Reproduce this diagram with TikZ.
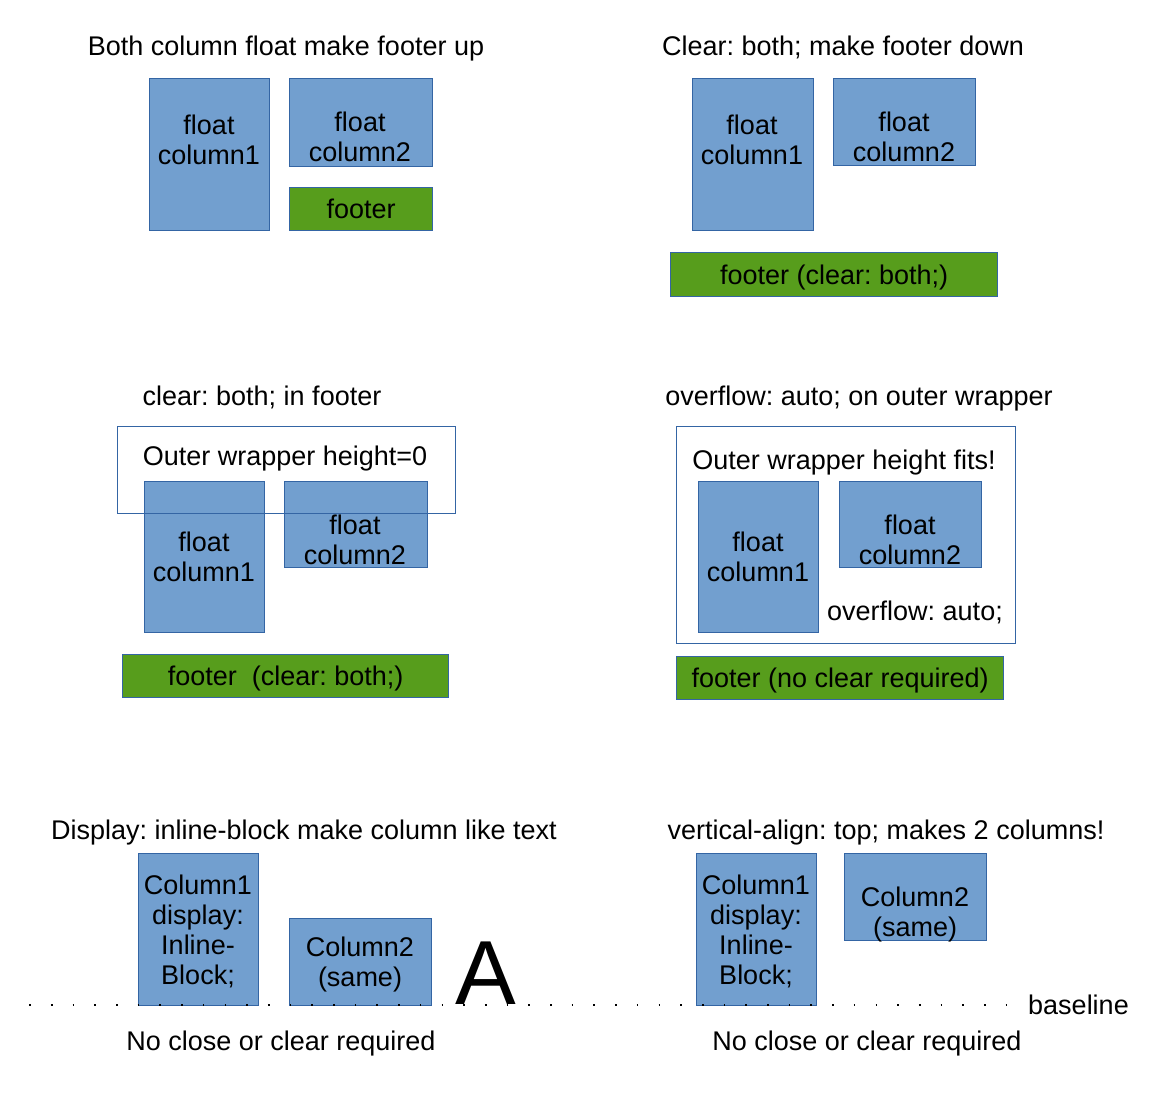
\documentclass[tikz,border=0pt]{standalone}
\usepackage{fontspec}
\setmainfont{Liberation Sans}
\frenchspacing
\definecolor{bord}{HTML}{3465A4}
\definecolor{blueF}{HTML}{729FCF}
\definecolor{greenF}{HTML}{579D1C}
\tikzset{
  txt/.style={font=\fontsize{27}{30}\selectfont, inner sep=0pt, align=center},
  bx/.style={draw=bord, line width=1.2pt, inner sep=0pt, anchor=north west},
  colbox/.style={bx, fill=blueF},
  footbox/.style={bx, fill=greenF, font=\fontsize{27}{30}\selectfont, text height=19.7pt, text depth=0pt},
  wrapbox/.style={bx},
  dotline/.style={line width=1.6pt, dash pattern=on 1.6pt off 20.1pt},
}
\begin{document}
\begin{tikzpicture}[x=1pt,y=-1pt]
\useasboundingbox (0,0) rectangle (1164,1100);
\fill[white] (0,0) rectangle (1164,1100);

% ---------- Panel 1 ----------
\node[txt, anchor=base] (t1) at (286,55) {Both column float make footer up};
\node[colbox, minimum width=120pt, minimum height=152pt] (p1c1) at (149,78) {};
\node[colbox, minimum width=143pt, minimum height=88pt] (p1c2) at (289,78) {};
\node[footbox, minimum width=143pt, minimum height=43pt] (p1f) at (289,187) {footer};
\node[txt] (p1c1t) at (209,140) {float\\column1};
\node[txt] (p1c2t) at (360,137) {float\\column2};

% ---------- Panel 2 ----------
\node[txt, anchor=base] (t2) at (843,55) {Clear: both; make footer down};
\node[colbox, minimum width=121pt, minimum height=152pt] (p2c1) at (692,78) {};
\node[colbox, minimum width=142pt, minimum height=87pt] (p2c2) at (833,78) {};
\node[footbox, minimum width=327pt, minimum height=44pt] (p2f) at (670,252) {footer (clear: both;)};
\node[txt] (p2c1t) at (752,140) {float\\column1};
\node[txt] (p2c2t) at (904,137) {float\\column2};

% ---------- Panel 3 ----------
\node[txt, anchor=base] (t3) at (262,405) {clear: both; in footer};
\node[colbox, minimum width=120pt, minimum height=151pt] (p3c1) at (144,481) {};
\node[colbox, minimum width=143pt, minimum height=86pt] (p3c2) at (284,481) {};
\node[wrapbox, minimum width=338pt, minimum height=87pt] (p3w) at (117,426) {};
\node[txt, anchor=base] (p3wt) at (285,465) {Outer wrapper height=0};
\node[txt] (p3c1t) at (204,557) {float\\column1};
\node[txt] (p3c2t) at (355,540) {float\\column2};
\node[footbox, minimum width=326pt, minimum height=43pt] (p3f) at (122,654) {footer\ \ (clear: both;)};

% ---------- Panel 4 ----------
\node[txt, anchor=base] (t4) at (859,405) {overflow: auto; on outer wrapper};
\node[wrapbox, minimum width=339pt, minimum height=217pt] (p4w) at (676,426) {};
\node[txt, anchor=base] (p4wt) at (844,469) {Outer wrapper height fits!};
\node[colbox, minimum width=120pt, minimum height=151pt] (p4c1) at (698,481) {};
\node[colbox, minimum width=142pt, minimum height=86pt] (p4c2) at (839,481) {};
\node[txt] (p4c1t) at (758,557) {float\\column1};
\node[txt] (p4c2t) at (910,540) {float\\column2};
\node[txt, anchor=base] (p4ov) at (915,620) {overflow: auto;};
\node[footbox, minimum width=327pt, minimum height=43pt] (p4f) at (676,656) {footer (no clear required)};

% ---------- Panel 5 ----------
\node[txt, anchor=base] (t5) at (304,839) {Display: inline-block make column like text};
\node[colbox, minimum width=120pt, minimum height=152pt] (p5c1) at (138,853) {};
\node[colbox, minimum width=142pt, minimum height=87pt] (p5c2) at (289,918) {};
\node[txt] (p5c1t) at (198,931.5) {Column1\\display:\\Inline-\\Block;};
\node[txt] (p5c2t) at (360,964) {Column2\\(same)};
\node[font=\fontsize{91}{100}\selectfont, inner sep=0pt, anchor=base] (bigA) at (486,1004) {A};
\node[txt, anchor=base] (p5b) at (281,1050) {No close or clear required};

% ---------- Panel 6 ----------
\node[txt, anchor=base] (t6) at (886,839) {vertical-align: top; makes 2 columns!};
\node[colbox, minimum width=120pt, minimum height=152pt] (p6c1) at (696,853) {};
\node[colbox, minimum width=142pt, minimum height=87pt] (p6c2) at (844,853) {};
\node[txt] (p6c1t) at (756,931.5) {Column1\\display:\\Inline-\\Block;};
\node[txt] (p6c2t) at (915,914) {Column2\\(same)};
\node[txt, anchor=base west] (bl) at (1028,1014) {baseline};
\node[txt, anchor=base] (p6b) at (867,1050) {No close or clear required};

% ---------- baseline dots ----------
\coordinate (bl0) at (29.2,1005);
\coordinate (bl1) at (1018,1005);
\draw[dotline] (bl0) -- (bl1);
\end{tikzpicture}
\end{document}
